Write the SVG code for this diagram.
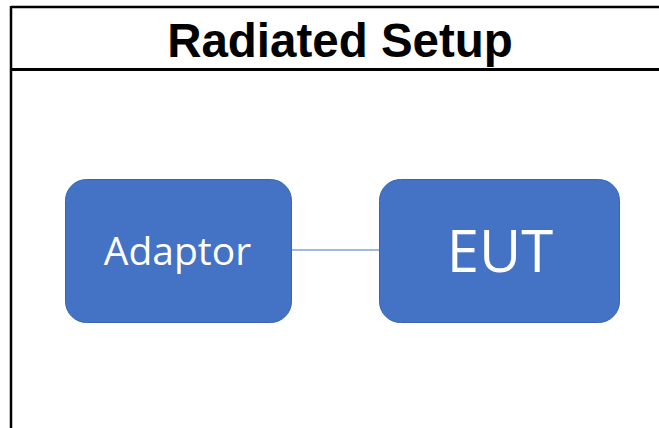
<svg xmlns="http://www.w3.org/2000/svg" width="659" height="428" viewBox="0 0 659 428">
<style>
.frame{stroke:#000;stroke-width:2.5;fill:none}
.node rect{fill:#4472C4;stroke:#3A64B0;stroke-width:1}
.node text{fill:#fff;font-family:"Open Sans",sans-serif;text-anchor:middle}
.title{font-family:"Liberation Sans",Arial,sans-serif;font-weight:bold;font-size:47.5px;text-anchor:middle;fill:#000}
.conn{stroke:#4472C4;stroke-width:1.2;fill:none}
</style>
<rect width="659" height="428" fill="#fff"/>
<g id="frame">
<line class="frame" x1="11" y1="7" x2="659" y2="7"/>
<line class="frame" x1="11" y1="6" x2="11" y2="428"/>
<line class="frame" x1="11" y1="69.5" x2="659" y2="69.5" style="stroke-width:3"/>
<text class="title" x="340" y="57">Radiated Setup</text>
</g>
<g id="connectors">
<line class="conn" x1="292" y1="250" x2="379" y2="250"/>
</g>
<g id="adaptor" class="node">
<rect x="65.5" y="179.5" width="226" height="143" rx="21"/>
<text x="177.5" y="265" font-size="39">Adaptor</text>
</g>
<g id="eut" class="node">
<rect x="379.5" y="179.5" width="240" height="143" rx="21"/>
<text x="500" y="271.5" font-size="58">EUT</text>
</g>
</svg>
